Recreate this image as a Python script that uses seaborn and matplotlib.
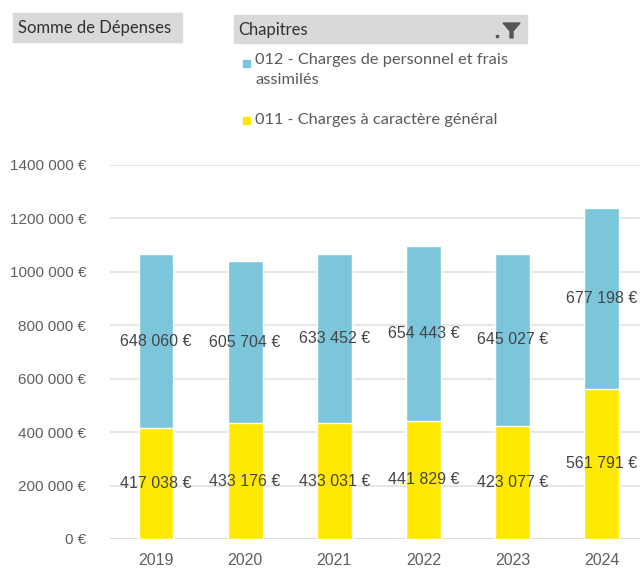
import matplotlib
matplotlib.use("Agg")
import matplotlib.pyplot as plt
import seaborn as sns
import pandas as pd
from matplotlib.patches import Rectangle, Polygon

# donnees
annees = ["2019", "2020", "2021", "2022", "2023", "2024"]
charges_011 = [417038, 433176, 433031, 441829, 423077, 561791]
charges_012 = [648060, 605704, 633452, 654443, 645027, 677198]
graduations = [0, 200000, 400000, 600000, 800000, 1000000, 1200000, 1400000]
etiquettes_y = ["0 €", "200 000 €", "400 000 €", "600 000 €", "800 000 €",
                "1000 000 €", "1200 000 €", "1400 000 €"]
serie_012 = "012 - Charges de personnel et frais\nassimilés"
serie_011 = "011 - Charges à caractère général"

bleu = "#7cc6dc"
jaune = "#ffe900"
gris_txt = "#5f5f5f"
W, H = 640, 569

def fmt(v):
    return f"{v:,}".replace(",", " ") + " €"

def fx(px):
    return px / W

def fy(py):
    return 1 - py / H

df = pd.DataFrame({"annee": annees, "c011": charges_011, "c012": charges_012})
df["total"] = df["c011"] + df["c012"]

sns.set_style("white")
plt.rcParams["font.family"] = ["Liberation Sans", "DejaVu Sans"]

fig = plt.figure(figsize=(6.4, 5.69), dpi=100)
ax = fig.add_axes([fx(110), fy(539), fx(530), 374 / H])

# empilement: total en bleu, puis 011 en jaune par-dessus
sns.barplot(data=df, x="annee", y="total", color=bleu, width=0.39,
            saturation=1, ax=ax, zorder=3)
sns.barplot(data=df, x="annee", y="c011", color=jaune, width=0.39,
            saturation=1, ax=ax, zorder=4)

for i, (a, b) in enumerate(zip(charges_011, charges_012)):
    ax.text(i, a / 2, fmt(a), ha="center", va="center",
            fontsize=11.5, color="#444444", zorder=5)
    ax.text(i, a + b / 2, fmt(b), ha="center", va="center",
            fontsize=11.5, color="#444444", zorder=5)

ax.set_ylim(0, 1400000)
ax.set_xlim(-0.516, 5.43)
ax.set_yticks(graduations)
ax.set_yticklabels(etiquettes_y)
ax.yaxis.grid(True, color="#e3e3e3", linewidth=1.2, zorder=0)
ax.set_axisbelow(True)
for s in ax.spines.values():
    s.set_visible(False)
ax.axhline(0, color="#d9d9d9", linewidth=1.2, zorder=2)
ax.tick_params(axis="y", length=0, labelsize=11, colors=gris_txt, pad=17)
ax.tick_params(axis="x", length=0, labelsize=11.5, colors=gris_txt, pad=10)
ax.set_xlabel("")
ax.set_ylabel("")

police = ["Lato", "DejaVu Sans"]

# en-tetes style tableau croise
fig.patches.append(Rectangle((fx(13), fy(42)), fx(169), 29 / H,
                             transform=fig.transFigure, color="#d9d9d9", zorder=0))
fig.text(fx(18), fy(28), "Somme de Dépenses", fontsize=12, family=police,
         color="#303030", va="center")
fig.patches.append(Rectangle((fx(234), fy(43)), fx(293), 28 / H,
                             transform=fig.transFigure, color="#d9d9d9", zorder=0))
fig.text(fx(238), fy(30), "Chapitres", fontsize=12, family=police,
         color="#303030", va="center")
# icone filtre
fig.patches.append(Polygon([(fx(503), fy(23)), (fx(520), fy(23)), (fx(513), fy(31)),
                            (fx(513), fy(38)), (fx(510), fy(38)), (fx(510), fy(31))],
                           closed=True, transform=fig.transFigure, color="#555555"))
fig.patches.append(Rectangle((fx(496), fy(37)), fx(2), 2 / H,
                             transform=fig.transFigure, color="#555555"))

# legende
fig.patches.append(Rectangle((fx(243), fy(67)), fx(7), 7 / H,
                             transform=fig.transFigure, color=bleu))
fig.text(fx(255), fy(53), serie_012, fontsize=11.8, family=police,
         color="#5a5a5a", va="top", linespacing=1.5)
fig.patches.append(Rectangle((fx(243), fy(124)), fx(7), 7 / H,
                             transform=fig.transFigure, color=jaune))
fig.text(fx(255), fy(120), serie_011, fontsize=11.8, family=police,
         color="#5a5a5a", va="center")

fig.savefig("out.png", dpi=100)
